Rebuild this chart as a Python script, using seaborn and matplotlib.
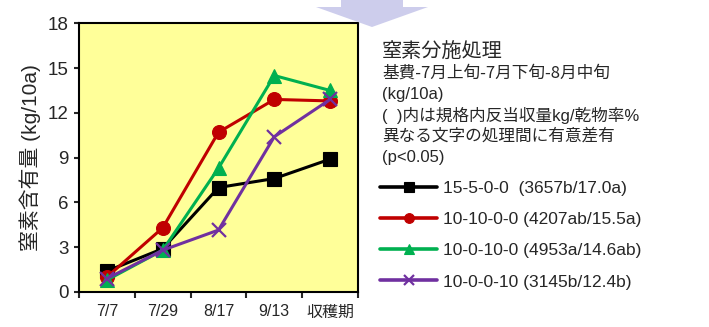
import matplotlib
matplotlib.use("Agg")
import matplotlib.pyplot as plt
from matplotlib.lines import Line2D
from matplotlib.patches import Polygon
import numpy as np
import pandas as pd
import seaborn as sns

# Sampling dates and nitrogen uptake (kg/10a) for each split-application treatment
dates = ["7/7", "7/29", "8/17", "9/13", "収穫期"]
treatments = [
    "15-5-0-0  (3657b/17.0a)",
    "10-10-0-0 (4207ab/15.5a)",
    "10-0-10-0 (4953a/14.6ab)",
    "10-0-0-10 (3145b/12.4b)",
]
n_15_5_0_0 = [1.4, 2.9, 7.0, 7.6, 8.9]
n_10_10_0_0 = [1.0, 4.3, 10.7, 12.9, 12.8]
n_10_0_10_0 = [0.8, 2.8, 8.3, 14.5, 13.5]
n_10_0_0_10 = [0.9, 2.8, 4.15, 10.4, 12.9]
yticks = [0, 3, 6, 9, 12, 15, 18]

colors = ["#000000", "#C00000", "#00B050", "#7030A0"]
markers = ["s", "o", "^", "x"]

series = [n_15_5_0_0, n_10_10_0_0, n_10_0_10_0, n_10_0_0_10]
df = pd.DataFrame(
    [(d, v, t) for t, vals in zip(treatments, series) for d, v in zip(dates, vals)],
    columns=["date", "N", "treat"],
)

sns.set_style("ticks")
plt.rcParams["font.family"] = ["Liberation Sans", "Noto Sans CJK JP", "DejaVu Sans"]

fig = plt.figure(figsize=(7.09, 3.27), dpi=100)
W, H = 709, 327
ax = fig.add_axes([79 / W, 1 - 292 / H, (358 - 79) / W, (292 - 23.3) / H])
ax.set_facecolor("#FFFF99")

sns.pointplot(
    data=df, x="date", y="N", hue="treat", order=dates, hue_order=treatments,
    palette=colors, markers=markers, linestyles="-", dodge=False,
    errorbar=None, ax=ax, legend=False,
)

for line, c, m in zip(ax.lines, colors, markers):
    line.set_linewidth(2.2)
    line.set_color(c)
    line.set_markerfacecolor(c)
    line.set_markeredgecolor(c)
    line.set_markersize(10)
    line.set_markeredgewidth(1.6 if m == "x" else 0.8)

ax.set_xlim(-0.5, 4.5)
ax.set_ylim(0, 18)
ax.set_yticks(yticks)
ax.set_xlabel("")
ax.set_ylabel("窒素含有量 (kg/10a)", fontsize=15, labelpad=5)
ax.tick_params(axis="y", labelsize=13.5, length=3.5, width=1.5, direction="out", pad=4)
ax.tick_params(axis="x", which="major", length=0, labelsize=11.5, pad=9)
ax.set_xticks(np.arange(-0.5, 5.0, 1.0), minor=True)
ax.tick_params(axis="x", which="minor", length=4, width=1.5, direction="out")
for s in ax.spines.values():
    s.set_visible(True)
    s.set_linewidth(1.5)
    s.set_color("black")

# Decorative downward arrow at the top edge
arrow = Polygon(
    [(341 / W, 1.0), (403 / W, 1.0), (403 / W, 1 - 7 / H), (428 / W, 1 - 7 / H),
     (372 / W, 1 - 27 / H), (316 / W, 1 - 7 / H), (341 / W, 1 - 7 / H)],
    closed=True, transform=fig.transFigure, facecolor="#CDCDEC", edgecolor="none",
    zorder=0,
)
fig.patches.append(arrow)

# Treatment notes
x0 = 382 / W
fig.text(x0, 1 - 52 / H, "窒素分施処理", fontsize=14.5, va="center", ha="left",
         family=["Noto Sans CJK JP"])
notes = [
    ("基費-7月上旬-7月下旬-8月中旬", ["Noto Sans CJK JP", "DejaVu Sans"]),
    ("(kg/10a)", ["Liberation Sans"]),
    ("(  )内は規格内反当収量kg/乾物率%", ["Liberation Sans", "Noto Sans CJK JP"]),
    ("異なる文字の処理間に有意差有", ["Noto Sans CJK JP"]),
    ("(p<0.05)", ["Liberation Sans"]),
]
for i, (t, fam) in enumerate(notes):
    fig.text(x0, 1 - (73.5 + 21 * i) / H, t, fontsize=12, va="center", ha="left",
             family=fam)

handles = [
    Line2D([], [], color=c, lw=2.6, marker=m, markersize=7,
           markeredgewidth=0.8 if m != "x" else 1.6, markerfacecolor=c, markeredgecolor=c)
    for c, m in zip(colors, markers)
]
fig.legend(
    handles, treatments, loc="upper left", bbox_to_anchor=(x0 - 2 / W, 1 - 181 / H),
    frameon=False, fontsize=12.5, handlelength=3.3, handletextpad=0.35,
    labelspacing=0.92, borderpad=0, borderaxespad=0,
)

fig.savefig("out.png", dpi=100)
